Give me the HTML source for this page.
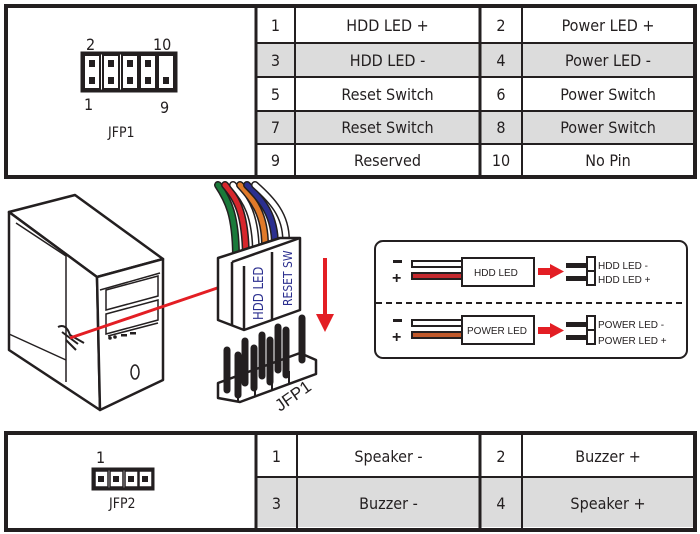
<!DOCTYPE html>
<html><head><meta charset="utf-8"><style>
body{margin:0;background:#fff;width:700px;height:534px;overflow:hidden;font-family:"DejaVu Sans Condensed","Liberation Sans",sans-serif;}
.t{position:absolute;border:4px solid #231f20;box-sizing:border-box;}
.c{position:absolute;display:flex;align-items:center;justify-content:center;font-size:16px;color:#231f20;box-sizing:border-box;}
</style></head><body>
<div class="t" style="left:4px;top:4px;width:693px;height:175px;"></div>
<svg style="position:absolute;left:0;top:0" width="700" height="534">
<g fill="#dcdcdc">
<rect x="257" y="43" width="436" height="33"/>
<rect x="257" y="111" width="436" height="33"/>
<rect x="257" y="477" width="436" height="50"/>
</g>
<g stroke="#231f20" stroke-width="2">
<line x1="256" y1="6" x2="256" y2="177" stroke-width="3"/>
<line x1="295" y1="6" x2="295" y2="177"/>
<line x1="480" y1="6" x2="480" y2="177" stroke-width="3"/>
<line x1="522" y1="6" x2="522" y2="177"/>
<line x1="256" y1="43" x2="694" y2="43"/>
<line x1="256" y1="77" x2="694" y2="77"/>
<line x1="256" y1="111" x2="694" y2="111"/>
<line x1="256" y1="144" x2="694" y2="144"/>
<line x1="256" y1="433" x2="256" y2="530" stroke-width="3"/>
<line x1="297" y1="433" x2="297" y2="530"/>
<line x1="480" y1="433" x2="480" y2="530" stroke-width="3"/>
<line x1="522" y1="433" x2="522" y2="530"/>
<line x1="256" y1="477" x2="694" y2="477"/>
</g>
<rect x="6" y="433" width="689" height="97" fill="none" stroke="#231f20" stroke-width="4"/>
<rect x="82" y="53" width="94" height="38" fill="none" stroke="#231f20" stroke-width="3"/>
<g stroke="#231f20" stroke-width="2" fill="none">
<rect x="84" y="55" width="16" height="34"/><rect x="103" y="55" width="16" height="34"/><rect x="122" y="55" width="16" height="34"/><rect x="140" y="55" width="16" height="34"/><rect x="158" y="55" width="16" height="34"/>
</g>
<g fill="#231f20">
<rect x="89" y="60" width="6" height="7"/><rect x="108" y="60" width="6" height="7"/><rect x="127" y="60" width="6" height="7"/><rect x="145" y="60" width="6" height="7"/>
<rect x="89" y="77" width="6" height="7"/><rect x="108" y="77" width="6" height="7"/><rect x="127" y="77" width="6" height="7"/><rect x="145" y="77" width="6" height="7"/><rect x="163" y="77" width="6" height="7"/>
</g>
<rect x="93" y="469" width="60" height="20" fill="none" stroke="#231f20" stroke-width="3"/>
<g stroke="#231f20" stroke-width="1.5" fill="none"><rect x="95" y="471" width="13" height="16"/><rect x="110" y="471" width="13" height="16"/><rect x="125" y="471" width="13" height="16"/><rect x="139" y="471" width="13" height="16"/></g>
<g fill="#231f20"><rect x="98" y="476" width="6" height="6"/><rect x="113" y="476" width="6" height="6"/><rect x="128" y="476" width="6" height="6"/><rect x="142" y="476" width="6" height="6"/></g>
<g font-size="16" fill="#231f20" font-family="DejaVu Sans Condensed,Liberation Sans,sans-serif">
<text x="86" y="50">2</text><text x="153" y="50">10</text><text x="84" y="110">1</text><text x="160" y="113">9</text>
<text x="108" y="137" font-size="14">JFP1</text>
<text x="96" y="463">1</text><text x="109" y="508" font-size="14">JFP2</text>
</g>
<g stroke="#231f20" stroke-width="2.5" fill="#fff" stroke-linejoin="round">
<polygon points="9,212 75,195 163,259 97,277"/>
<polygon points="9,212 97,277 100,410 9,350"/>
<polygon points="97,277 163,259 163,380 100,410"/>
</g>
<g stroke="#231f20" stroke-width="1.5" fill="none">
<polyline points="16,223 66,256 66,382"/>
<line x1="9" y1="334" x2="66" y2="360"/>
<polyline points="100,290 160,273"/>
<polygon points="106,290 158,276 158,296 106,310"/>
<polygon points="106,314 158,300 158,320 106,334"/>
<line x1="108" y1="336" x2="158" y2="323"/>
<ellipse cx="135" cy="372" rx="4" ry="7"/>
</g>
<g fill="#231f20"><circle cx="110" cy="338" r="1.8"/><circle cx="115" cy="337" r="1.8"/><rect x="121" y="334" width="6" height="2.5"/><rect x="130" y="332" width="6" height="2.5"/></g>
<g stroke="#231f20" stroke-width="2" fill="none"><path d="M58 327 q8 -4 12 8 l14 8"/><path d="M62 332 l16 12"/><path d="M66 340 l10 10"/></g>
<line x1="70" y1="338" x2="232" y2="283" stroke="#e31e24" stroke-width="3"/>
<g fill="none" stroke-linecap="round">
<path d="M218 185 C228 200 236 215 236 258" stroke="#231f20" stroke-width="8"/><path d="M218 185 C228 200 236 215 236 258" stroke="#1a7a3a" stroke-width="5"/>
<path d="M225 185 C238 200 246 215 246 262" stroke="#231f20" stroke-width="8"/><path d="M225 185 C238 200 246 215 246 262" stroke="#d7262c" stroke-width="5"/>
<path d="M233 185 C246 200 256 215 256 255" stroke="#231f20" stroke-width="8"/><path d="M233 185 C246 200 256 215 256 255" stroke="#fff" stroke-width="5"/>
<path d="M240 185 C254 200 265 215 265 245" stroke="#231f20" stroke-width="8"/><path d="M240 185 C254 200 265 215 265 245" stroke="#e07a2a" stroke-width="5"/>
<path d="M247 185 C262 200 275 215 275 245" stroke="#231f20" stroke-width="8"/><path d="M247 185 C262 200 275 215 275 245" stroke="#2b2f8f" stroke-width="5"/>
<path d="M255 185 C272 200 286 215 286 240" stroke="#231f20" stroke-width="8"/><path d="M255 185 C272 200 286 215 286 240" stroke="#fff" stroke-width="5"/>
</g>
<g stroke="#231f20" stroke-width="2.5" fill="#fff" stroke-linejoin="round">
<polygon points="218,258 280,238 300,238 300,310 244,330 218,320"/>
<line x1="232" y1="262" x2="232" y2="325"/>
<line x1="244" y1="266" x2="244" y2="330"/>
<line x1="272" y1="252" x2="272" y2="320"/>
<line x1="232" y1="262" x2="300" y2="238"/>
</g>
<text transform="translate(263,320) rotate(-90)" font-size="13" fill="#2b2f8f" font-family="DejaVu Sans Condensed,Liberation Sans,sans-serif">HDD LED</text>
<text transform="translate(292,306) rotate(-90)" font-size="12" fill="#2b2f8f" font-family="DejaVu Sans Condensed,Liberation Sans,sans-serif">RESET SW</text>
<line x1="325" y1="258" x2="325" y2="318" stroke="#e31e24" stroke-width="4"/>
<polygon points="316,314 334,314 325,332" fill="#e31e24"/>
<g stroke="#231f20" stroke-width="2.5" fill="#fff" stroke-linejoin="round">
<polygon points="218,383 300,353 316,360 316,374 240,402 218,398"/>
</g>
<g stroke="#231f20" stroke-width="2" fill="none"><line x1="238" y1="390" x2="238" y2="402"/><line x1="255" y1="384" x2="255" y2="396"/><line x1="272" y1="378" x2="272" y2="390"/><line x1="289" y1="371" x2="289" y2="384"/></g>
<g stroke="#231f20" stroke-width="7" stroke-linecap="round">
<line x1="227" y1="350" x2="227" y2="390"/><line x1="245" y1="341" x2="245" y2="383"/><line x1="262" y1="335" x2="262" y2="376"/><line x1="278" y1="327" x2="278" y2="370"/><line x1="302" y1="318" x2="302" y2="360"/>
<line x1="238" y1="355" x2="238" y2="395"/><line x1="254" y1="348" x2="254" y2="388"/><line x1="270" y1="340" x2="270" y2="382"/><line x1="286" y1="330" x2="286" y2="375"/>
</g>
<text transform="translate(280,412) rotate(-35)" font-size="17" fill="#231f20" font-family="Liberation Sans,sans-serif">JFP1</text>
<rect x="375" y="241" width="312" height="117" rx="8" fill="#fff" stroke="#231f20" stroke-width="2"/>
<line x1="376" y1="303" x2="686" y2="303" stroke="#231f20" stroke-width="2" stroke-dasharray="6,4"/>
<g fill="#231f20"><rect x="393" y="260" width="9" height="3"/><rect x="393" y="319" width="9" height="3"/></g>
<g font-family="Liberation Sans,sans-serif" font-weight="bold" fill="#231f20" font-size="16"><text x="392" y="283">+</text><text x="392" y="342">+</text></g>
<g stroke="#231f20" stroke-width="2">
<rect x="412" y="261" width="50" height="6" fill="#fff"/><rect x="412" y="273" width="50" height="6" fill="#c4282d"/>
<rect x="412" y="320" width="50" height="6" fill="#fff"/><rect x="412" y="332" width="50" height="6" fill="#c0582a"/>
<rect x="462" y="258" width="72" height="28" fill="#fff"/><rect x="462" y="316" width="72" height="28" fill="#fff"/>
<rect x="587" y="257" width="8" height="28" fill="#fff"/><line x1="587" y1="271" x2="595" y2="271"/>
<rect x="587" y="316" width="8" height="28" fill="#fff"/><line x1="587" y1="330" x2="595" y2="330"/>
</g>
<g fill="#231f20"><rect x="566" y="263" width="21" height="5"/><rect x="566" y="276" width="21" height="5"/><rect x="566" y="322" width="21" height="5"/><rect x="566" y="335" width="21" height="5"/></g>
<g fill="#e31e24"><rect x="538" y="268" width="14" height="7"/><polygon points="550,264 564,271.5 550,279"/><rect x="538" y="327" width="14" height="7"/><polygon points="550,323 564,330.5 550,338"/></g>
<g font-family="Liberation Sans,sans-serif" font-size="10" fill="#231f20">
<text x="474" y="276">HDD LED</text><text x="467" y="334">POWER LED</text>
<text x="598" y="269">HDD LED -</text><text x="598" y="283">HDD LED +</text>
<text x="598" y="328">POWER LED -</text><text x="598" y="344">POWER LED +</text>
</g>
</svg>
<div class="c" style="left:256px;top:8px;width:39px;height:35px">1</div>
<div class="c" style="left:295px;top:8px;width:185px;height:35px">HDD LED +</div>
<div class="c" style="left:480px;top:8px;width:42px;height:35px">2</div>
<div class="c" style="left:522px;top:8px;width:172px;height:35px">Power LED +</div>
<div class="c" style="left:256px;top:43px;width:39px;height:34px">3</div>
<div class="c" style="left:295px;top:43px;width:185px;height:34px">HDD LED -</div>
<div class="c" style="left:480px;top:43px;width:42px;height:34px">4</div>
<div class="c" style="left:522px;top:43px;width:172px;height:34px">Power LED -</div>
<div class="c" style="left:256px;top:77px;width:39px;height:34px">5</div>
<div class="c" style="left:295px;top:77px;width:185px;height:34px">Reset Switch</div>
<div class="c" style="left:480px;top:77px;width:42px;height:34px">6</div>
<div class="c" style="left:522px;top:77px;width:172px;height:34px">Power Switch</div>
<div class="c" style="left:256px;top:111px;width:39px;height:33px">7</div>
<div class="c" style="left:295px;top:111px;width:185px;height:33px">Reset Switch</div>
<div class="c" style="left:480px;top:111px;width:42px;height:33px">8</div>
<div class="c" style="left:522px;top:111px;width:172px;height:33px">Power Switch</div>
<div class="c" style="left:256px;top:144px;width:39px;height:33px">9</div>
<div class="c" style="left:295px;top:144px;width:185px;height:33px">Reserved</div>
<div class="c" style="left:480px;top:144px;width:42px;height:33px">10</div>
<div class="c" style="left:522px;top:144px;width:172px;height:33px">No Pin</div>
<div class="c" style="left:256px;top:435px;width:41px;height:42px">1</div>
<div class="c" style="left:297px;top:435px;width:183px;height:42px">Speaker -</div>
<div class="c" style="left:480px;top:435px;width:42px;height:42px">2</div>
<div class="c" style="left:522px;top:435px;width:172px;height:42px">Buzzer +</div>
<div class="c" style="left:256px;top:477px;width:41px;height:52px">3</div>
<div class="c" style="left:297px;top:477px;width:183px;height:52px">Buzzer -</div>
<div class="c" style="left:480px;top:477px;width:42px;height:52px">4</div>
<div class="c" style="left:522px;top:477px;width:172px;height:52px">Speaker +</div>
</body></html>
